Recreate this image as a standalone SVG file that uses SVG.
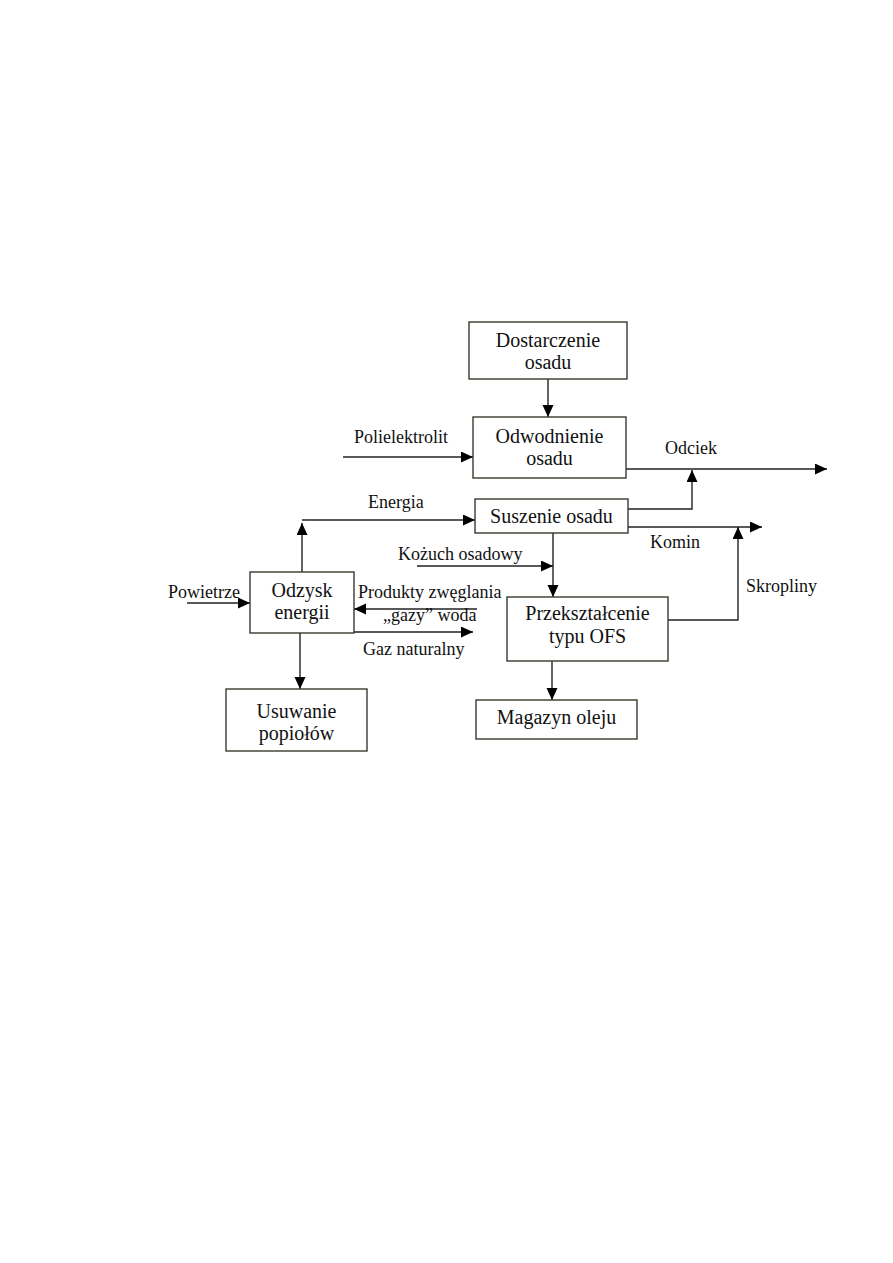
<svg xmlns="http://www.w3.org/2000/svg" width="893" height="1263" viewBox="0 0 893 1263">
<style>
.box{fill:#fff;stroke:#3b3a2e;stroke-width:1.4}
.bt{font-family:"Liberation Serif",serif;font-size:20px;fill:#111;text-anchor:middle}
.lb{font-family:"Liberation Serif",serif;font-size:18px;fill:#111}
.ln{fill:none;stroke:#222;stroke-width:1.4;marker-end:url(#ah)}
</style>
<defs>
<marker id="ah" markerUnits="userSpaceOnUse" markerWidth="13" markerHeight="12" refX="12" refY="5.5" orient="auto">
<path d="M0,0 L12,5.5 L0,11 z" fill="#000"/>
</marker>
</defs>
<rect width="893" height="1263" fill="#fff"/>
<g id="connectors">
<path class="ln" d="M548,379 V417"/>
<path class="ln" d="M343,457 H473"/>
<path class="ln" d="M626,469 H827"/>
<path class="ln" d="M628,509 H692 V470"/>
<path class="ln" d="M628,527 H762"/>
<path class="ln" d="M668,620 H738 V527"/>
<path class="ln" d="M302,572 V523"/>
<path class="ln" d="M302,520 H475"/>
<path class="ln" d="M553,533 V597"/>
<path class="ln" d="M417,566 H553"/>
<path class="ln" d="M187,603 H250"/>
<path class="ln" d="M477,609 H354"/>
<path class="ln" d="M354,632 H473"/>
<path class="ln" d="M300,633 V689"/>
<path class="ln" d="M552,661 V700"/>
</g>
<g id="labels">
<text class="lb" x="354" y="443">Polielektrolit</text>
<text class="lb" x="665" y="454">Odciek</text>
<text class="lb" x="368" y="508">Energia</text>
<text class="lb" x="650" y="548">Komin</text>
<text class="lb" x="398" y="560">Kożuch osadowy</text>
<text class="lb" x="746" y="592">Skropliny</text>
<text class="lb" x="168" y="598">Powietrze</text>
<text class="lb" x="358" y="598">Produkty zwęglania</text>
<text class="lb" x="383" y="621">„gazy” woda</text>
<text class="lb" x="363" y="655">Gaz naturalny</text>
</g>
<g id="dostarczenie">
<rect class="box" x="469" y="322" width="158" height="57"/>
<text class="bt" x="548" y="347">Dostarczenie</text>
<text class="bt" x="548" y="369">osadu</text>
</g>
<g id="odwodnienie">
<rect class="box" x="473" y="417" width="153" height="61"/>
<text class="bt" x="549.5" y="443">Odwodnienie</text>
<text class="bt" x="549.5" y="465">osadu</text>
</g>
<g id="suszenie">
<rect class="box" x="475" y="499" width="153" height="34"/>
<text class="bt" x="551.5" y="523">Suszenie osadu</text>
</g>
<g id="przeksztalcenie">
<rect class="box" x="507" y="597" width="161" height="64"/>
<text class="bt" x="587.5" y="620">Przekształcenie</text>
<text class="bt" x="587.5" y="643">typu OFS</text>
</g>
<g id="magazyn">
<rect class="box" x="476" y="700" width="161" height="39"/>
<text class="bt" x="556.5" y="724">Magazyn oleju</text>
</g>
<g id="odzysk">
<rect class="box" x="250" y="572" width="104" height="61"/>
<text class="bt" x="302" y="597">Odzysk</text>
<text class="bt" x="302" y="619">energii</text>
</g>
<g id="usuwanie">
<rect class="box" x="226" y="689" width="141" height="62"/>
<text class="bt" x="296.5" y="718">Usuwanie</text>
<text class="bt" x="296.5" y="740">popiołów</text>
</g>
</svg>
